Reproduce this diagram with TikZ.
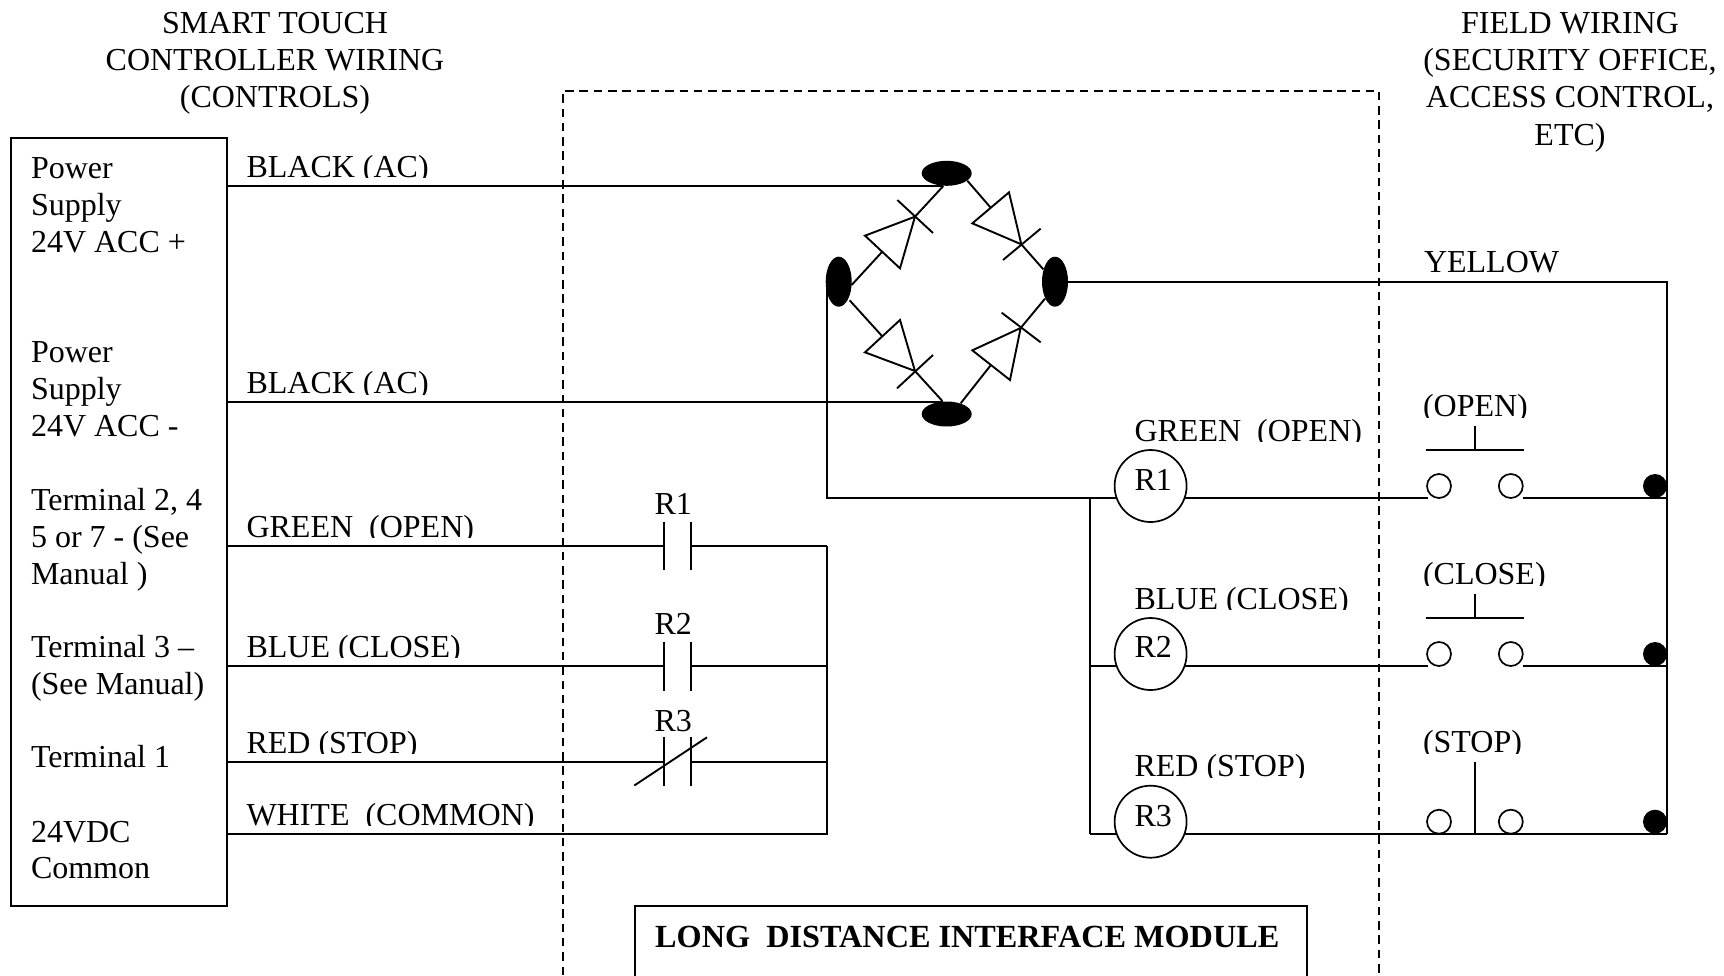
\documentclass[tikz,border=0pt]{standalone}
\usepackage{fontspec}
\setmainfont{Liberation Serif}
\usetikzlibrary{shapes.geometric}
\tikzset{
  lab/.style={anchor=base west,inner sep=0pt,outer sep=0pt,yshift=-1.1pt,font=\fontsize{32}{36.8}\selectfont,align=left},
  head/.style={anchor=base,inner sep=0pt,outer sep=0pt,yshift=-1.1pt,font=\fontsize{32}{36.8}\selectfont,align=center},
  wire/.style={line width=2.3pt,line join=miter},
  thin wire/.style={line width=1.9pt},
  frame/.style={draw,line width=2pt,dash pattern=on 8.5pt off 5.8pt},
  coil/.style={circle,draw,line width=1.7pt,minimum size=72pt,inner sep=0pt,outer sep=0pt,fill=white},
  pole/.style={circle,draw,line width=1.7pt,minimum size=24pt,inner sep=0pt,outer sep=0pt},
  dot/.style={circle,fill=black,minimum size=24pt,inner sep=0pt,outer sep=0pt},
  hblob/.style={ellipse,fill=black,minimum width=50pt,minimum height=25pt,inner sep=0pt,outer sep=0pt},
  vblob/.style={ellipse,fill=black,minimum width=26pt,minimum height=50pt,inner sep=0pt,outer sep=0pt},
  diode/.style={line width=1.9pt,line join=miter}
}
\newcommand{\cliplab}[4]{\begin{scope}\clip (#2-10,#3-45) rectangle (#2+420,#3+1.9);\node[lab] (#1) at (#2,#3) {#4};\end{scope}}
\begin{document}
\begin{tikzpicture}[x=1pt,y=-1pt]
\useasboundingbox (0,0) rectangle (1724,975);
\clip (0,0) rectangle (1724,975);
% headings
\node[head] (h1a) at (275,32.7) {SMART TOUCH};
\node[head] (h1b) at (275,69.5) {CONTROLLER WIRING};
\node[head] (h1c) at (275,106.5) {(CONTROLS)};
\node[head] (h2a) at (1570,32.7) {FIELD WIRING};
\node[head] (h2b) at (1570,69.5) {(SECURITY OFFICE,};
\node[head] (h2c) at (1570,106.5) {ACCESS CONTROL,};
\node[head] (h2d) at (1570,144) {ETC)};
% left box
\node[draw,line width=2.3pt,minimum width=216pt,minimum height=768pt,inner sep=0pt,outer sep=0pt] (lbox) at (119,522) {};
\node[lab] (t1a) at (31,177.3) {Power};
\node[lab] (t1b) at (31,214.3) {Supply};
\node[lab] (t1c) at (31,251.5) {24V ACC +};
\node[lab] (t2a) at (31,361.7) {Power};
\node[lab] (t2b) at (31,398.5) {Supply};
\node[lab] (t2c) at (31,435.5) {24V ACC -};
\node[lab] (t3a) at (31,509.3) {Terminal 2, 4};
\node[lab] (t3b) at (31,546) {5 or 7 - (See};
\node[lab] (t3c) at (31,583) {Manual )};
\node[lab] (t4a) at (31,656.7) {Terminal 3 –};
\node[lab] (t4b) at (31,693) {(See Manual)};
\node[lab] (t5) at (31,766.7) {Terminal 1};
\node[lab] (t6a) at (31,841) {24VDC};
\node[lab] (t6b) at (31,877.7) {Common};
% dashed module frame
\coordinate (fa) at (563,975);
\coordinate (fb) at (563,90.5);
\coordinate (fc) at (1379,90.5);
\coordinate (fd) at (1379,975);
\draw[frame] (fa) -- (fb) -- (fc) -- (fd);
% module title box
\node[draw,line width=2.3pt,minimum width=672pt,minimum height=140pt,inner sep=0pt,outer sep=0pt] (mbox) at (971,976) {};
\node[anchor=base west,inner sep=0pt,yshift=-1.1pt,font=\fontsize{32.25}{36.8}\selectfont\bfseries] (mtitle) at (655,946.5) {LONG\ \ DISTANCE INTERFACE MODULE};
% wire labels
\cliplab{w1}{246.5}{176}{BLACK (AC)}
\cliplab{w2}{246.5}{392.5}{BLACK (AC)}
\cliplab{w3}{246.5}{536}{GREEN\ \ (OPEN)}
\cliplab{w4}{246.5}{656}{BLUE (CLOSE)}
\cliplab{w5}{246.5}{752}{RED (STOP)}
\cliplab{w6}{246.5}{824}{WHITE\ \ (COMMON)}
\cliplab{w7}{1134.5}{440}{GREEN\ \ (OPEN)}
\cliplab{w8}{1134.5}{608}{BLUE (CLOSE)}
\cliplab{w9}{1134.5}{775.7}{RED (STOP)}
\cliplab{s1}{1423}{415.7}{(OPEN)}
\cliplab{s2}{1423}{583.7}{(CLOSE)}
\cliplab{s3}{1423}{751.7}{(STOP)}
\node[lab] (yl) at (1424,271.5) {YELLOW};
\node[lab] (c1) at (654.5,513) {R1};
\node[lab] (c2) at (654.5,633) {R2};
\node[lab] (c3) at (654.5,730) {R3};
% bridge nodes
\node[hblob] (eT) at (946.7,173.3) {};
\node[hblob] (eB) at (946.7,414) {};
\node[vblob] (eL) at (838.7,281.7) {};
\node[vblob] (eR) at (1055,281.7) {};
% levels
\coordinate (yA) at (0,186);
\coordinate (yB) at (0,402);
\coordinate (yG) at (0,546);
\coordinate (yU) at (0,666);
\coordinate (yD) at (0,762.3);
\coordinate (yW) at (0,834);
\coordinate (yY) at (0,282.3);
\coordinate (y1) at (0,498);
\coordinate (y2) at (0,666);
\coordinate (y3) at (0,834);
\coordinate (rail) at (826.7,0);
\coordinate (bus) at (1090.3,0);
\coordinate (xrt) at (1667,0);
\coordinate (tw) at (943,0);
% bridge feeds
\draw[wire] (lbox.east |- yA) -- (tw |- yA);
\draw[wire] (lbox.east |- yB) -- (tw |- yB);
\draw[wire] (eR.east |- yY) -- (xrt |- yY) -- (xrt |- y3);
\draw[wire] (rail |- eL) -- (rail |- y1) -- (bus |- y1);
% diodes, drawn on the 3x grid of the bridge
\begin{scope}[x=0.33333pt,y=-0.33333pt,shift={(2340,420)}]
\coordinate (d1) at (490,138); \coordinate (d2) at (405,230); \coordinate (d3) at (305,337); \coordinate (d4) at (215,435);
\draw[diode] (d1) -- (d2); \draw[diode] (d3) -- (d4);
\draw[diode] (255,287) -- (405,230) -- (360,385) -- cycle;
\draw[diode] (352,180) -- (459,279);
\coordinate (d5) at (562,122); \coordinate (d6) at (632,203); \coordinate (d7) at (724,313); \coordinate (d8) at (790,388);
\draw[diode] (d5) -- (d6); \draw[diode] (d7) -- (d8);
\draw[diode] (577,250) -- (687,157) -- (724,313) -- cycle;
\draw[diode] (669,360) -- (782,266);
\coordinate (d9) at (209,481); \coordinate (d10) at (306,588); \coordinate (d11) at (405,693); \coordinate (d12) at (487,783);
\draw[diode] (d9) -- (d10); \draw[diode] (d11) -- (d12);
\draw[diode] (255,637) -- (360,540) -- (405,693) -- cycle;
\draw[diode] (351,745) -- (459,645);
\coordinate (d13) at (542,790); \coordinate (d14) at (632,676); \coordinate (d15) at (722,564); \coordinate (d16) at (795,476);
\draw[diode] (d13) -- (d14); \draw[diode] (d15) -- (d16);
\draw[diode] (577,631) -- (690,720) -- (722,564) -- cycle;
\draw[diode] (665,518) -- (782,607);
\end{scope}
% contacts
\coordinate (ka) at (663.8,0);
\coordinate (kb) at (690.7,0);
\coordinate (cr) at (826.7,0);
\draw[wire] (lbox.east |- yG) -- (ka |- yG);
\draw[wire] (kb |- yG) -- (cr |- yG);
\draw[wire] (lbox.east |- yU) -- (ka |- yU);
\draw[wire] (kb |- yU) -- (cr |- yU);
\draw[wire] (lbox.east |- yD) -- (ka |- yD);
\draw[wire] (kb |- yD) -- (cr |- yD);
\draw[wire] (lbox.east |- yW) -- (cr |- yW) -- (cr |- yG);
\draw[thin wire] (663.8,521.7) -- (663.8,570);
\draw[thin wire] (690.7,521.7) -- (690.7,570);
\draw[thin wire] (663.8,641.7) -- (663.8,690.7);
\draw[thin wire] (690.7,641.7) -- (690.7,690.7);
\draw[thin wire] (663.8,737.3) -- (663.8,786);
\draw[thin wire] (690.7,737.3) -- (690.7,786);
\draw[thin wire] (634.3,785.5) -- (707,737.3);
% coils
\draw[wire] (bus |- y1) -- (bus |- y3);
\node[coil] (R1) at (1150.6,486) {};
\node[coil] (R2) at (1150.6,654) {};
\node[coil] (R3) at (1150.6,821.7) {};
\node[lab] (r1t) at (1134.5,489) {R1};
\node[lab] (r2t) at (1134.5,656.7) {R2};
\node[lab] (r3t) at (1134.5,825) {R3};
\draw[wire] (bus |- y1) -- (R1.199.5 |- y1);
\draw[wire] (bus |- y2) -- (R2.199.5 |- y2);
\draw[wire] (bus |- y3) -- (R3.199.5 |- y3);
% push buttons
\foreach \n/\cy in {1/486,2/654,3/821.7}{
  \node[pole] (pa\n) at (1439,\cy) {};
  \node[pole] (pb\n) at (1510.8,\cy) {};
  \node[dot] (dt\n) at (1655,\cy) {};
}
\coordinate (pl) at (1427.5,0);
\coordinate (pr) at (1523,0);
\draw[wire] (R1.340.5 |- y1) -- (pl |- y1);
\draw[wire] (pr |- y1) -- (xrt |- y1);
\draw[wire] (R2.340.5 |- y2) -- (pl |- y2);
\draw[wire] (pr |- y2) -- (xrt |- y2);
\draw[wire] (R3.340.5 |- y3) -- (xrt |- y3);
\draw[wire] (1426,450) -- (1523.5,450);
\draw[thin wire] (1475,425.7) -- (1475,450);
\draw[wire] (1426,618) -- (1523.5,618);
\draw[thin wire] (1475,593.7) -- (1475,618);
\draw[thin wire] (1475,761.7) -- (1475,834);
\end{tikzpicture}
\end{document}
